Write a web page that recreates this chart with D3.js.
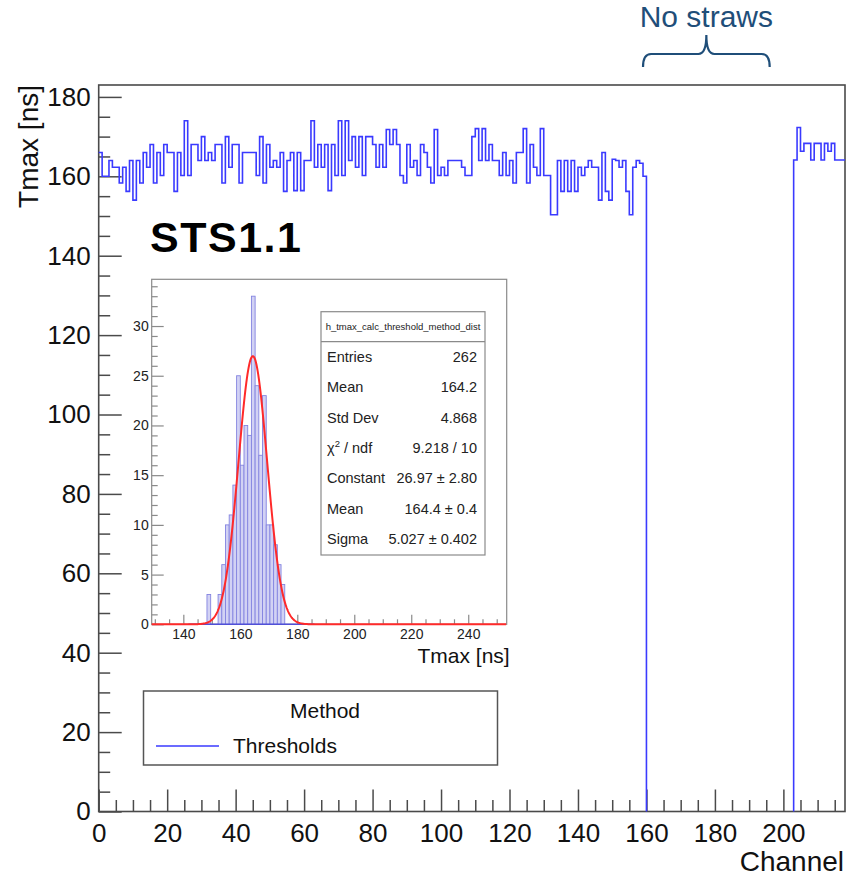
<!DOCTYPE html>
<html lang="en">

<head>
    <meta charset="UTF-8">
    <title>Tmax per channel</title>
    <script src="https://cdn.jsdelivr.net/npm/d3@7"></script>
    <style>
        body { margin: 0; background: #fff; }
        text { font-family: "Liberation Sans", Arial, sans-serif; }
    </style>
</head>

<body>
    <div id="container"></div>
<script>
    // Tmax per channel, first block (channels 0..159)
    const tmaxA = [
        166, 160, 160, 164, 162.3, 162.3, 158.3, 162.3, 156.2, 164,
        154, 164, 158.3, 166, 162.3, 168, 158.3, 166, 160.2, 168,
        166, 166, 156.2, 166, 160.2, 174, 160.2, 168, 168, 164,
        170, 164, 166, 164, 168, 168, 158.3, 170, 162.3, 168,
        168, 158.3, 166, 166, 166, 166, 160.2, 170, 158.3, 168,
        162.3, 164, 162.3, 166, 156.2, 164, 166, 156.4, 166, 156.4,
        164, 164, 174, 162.3, 168, 162.3, 168, 156.4, 168, 160.2,
        174, 160.2, 174, 164, 170, 162.3, 170, 160.2, 170, 170,
        168, 162.3, 168, 162.3, 171.8, 168, 171.8, 168, 160.2, 158.3,
        168, 162.3, 164, 160.2, 168, 166, 162.3, 158.3, 171.8, 160.2,
        162.3, 160.2, 164, 164, 164, 164, 162.3, 160.2, 160.2, 170,
        172, 164, 172, 164, 168, 164, 164, 160.2, 166, 160.2,
        164, 158.3, 166, 166, 172, 158.3, 168, 162.3, 160.2, 172,
        160.2, 160.2, 150.3, 150.3, 164, 156.2, 164, 156.2, 164, 156.2,
        162.3, 160.2, 162.3, 164, 162.3, 162.3, 154, 166, 156.2, 154,
        164.3, 164, 162.3, 164, 156.2, 150.3, 162.3, 164, 163.3, 160
    ];
    // second block after the gap without straws
    const startB = 203;
    const tmaxB = [164.1, 172.3, 166.3, 168.3, 168.3, 164.1, 168.3, 168.3, 164.1, 168.3,
        166.3, 168.3, 164.1, 164.1, 164.1];

    const xTicks = [0, 20, 40, 60, 80, 100, 120, 140, 160, 180, 200];
    const yTicks = [0, 20, 40, 60, 80, 100, 120, 140, 160, 180];

    // inset: distribution of Tmax
    const distStart = 141.8;
    const distWidth = 1.3;
    const distCounts = [0, 0, 0, 0, 0, 3, 0, 0, 3, 6,
        10, 11, 14, 25, 16, 20, 19, 33, 24, 17,
        23, 10, 10, 8, 6, 4, 0, 0, 0, 0,
        0, 0, 0, 0];
    const fitConst = 26.97, fitMean = 164.4, fitSigma = 5.027;
    const insetXTicks = [140, 160, 180, 200, 220, 240];
    const insetYTicks = [0, 5, 10, 15, 20, 25, 30];
    const statsTitle = "h_tmax_calc_threshold_method_dist";
    const statsRows = [
        ["Entries", "262"],
        ["Mean", "164.2"],
        ["Std Dev", "4.868"],
        ["chi2", "9.218 / 10"],
        ["Constant", "26.97 \u00b1 2.80"],
        ["Mean", "164.4 \u00b1 0.4"],
        ["Sigma", "5.027 \u00b1 0.402"]
    ];

    const W = 850, H = 877;
    const axisColor = "#4a4a4a";
    const histColor = "#3a3aff";

    const svg = d3.create("svg")
        .attr("width", W)
        .attr("height", H)
        .attr("viewBox", `0 0 ${W} ${H}`);

    svg.append("rect").attr("width", W).attr("height", H).attr("fill", "#fff");

    // ---------- main frame ----------
    const x = d3.scaleLinear().domain([0, 218]).range([98.7, 845]);
    const y = d3.scaleLinear().domain([0, 183]).range([811.5, 85]);

    const minorX = d3.range(0, 218, 5).filter(d => d % 20 !== 0);
    const minorY = d3.range(0, 183, 5).filter(d => d % 20 !== 0);

    const gx = svg.append("g").attr("transform", `translate(0,${y(0)})`);
    gx.append("g").call(d3.axisBottom(x).tickValues(minorX).tickSize(-11.5).tickFormat(""));
    gx.append("g").call(d3.axisBottom(x).tickValues(xTicks).tickSize(-22).tickPadding(12).tickSizeOuter(0));

    const gy = svg.append("g").attr("transform", `translate(${x(0)},0)`);
    gy.append("g").call(d3.axisLeft(y).tickValues(minorY).tickSize(-11.5).tickFormat(""));
    gy.append("g").call(d3.axisLeft(y).tickValues(yTicks).tickSize(-23).tickPadding(8).tickSizeOuter(0));

    svg.selectAll(".domain").remove();
    [gx, gy].forEach(g => {
        g.selectAll("line").attr("stroke", axisColor).attr("stroke-width", 1.5);
        g.selectAll("text").attr("font-size", 26).attr("fill", "#111")
            .attr("font-family", '"Liberation Sans", Arial, sans-serif');
    });

    svg.append("rect")
        .attr("x", x(0)).attr("y", y(183))
        .attr("width", x(218) - x(0)).attr("height", y(0) - y(183))
        .attr("fill", "none").attr("stroke", axisColor).attr("stroke-width", 1.6);

    // step histogram, two pieces
    const step = d3.line()
        .x(d => x(d[0]))
        .y(d => y(d[1]))
        .curve(d3.curveStepAfter);

    const ptsA = tmaxA.map((v, i) => [i, v]);
    ptsA.push([tmaxA.length, tmaxA[tmaxA.length - 1]]);
    ptsA.push([tmaxA.length, 0]);

    const ptsB = [[startB, 0]].concat(tmaxB.map((v, i) => [startB + i, v]));
    ptsB.push([startB + tmaxB.length, tmaxB[tmaxB.length - 1]]);

    [ptsA, ptsB].forEach(p => {
        svg.append("path")
            .attr("d", step(p))
            .attr("fill", "none")
            .attr("stroke", histColor)
            .attr("stroke-width", 1.6);
    });

    // axis titles
    svg.append("text")
        .attr("x", x(218) - 1).attr("y", 871)
        .attr("text-anchor", "end")
        .attr("font-size", 28).attr("fill", "#111")
        .text("Channel");

    svg.append("text")
        .attr("transform", `translate(38,${y(183)}) rotate(-90)`)
        .attr("text-anchor", "end")
        .attr("font-size", 28).attr("fill", "#111")
        .text("Tmax [ns]");

    svg.append("text")
        .attr("x", 150).attr("y", 252)
        .attr("font-size", 43).attr("font-weight", "bold")
        .attr("letter-spacing", 1.5).attr("fill", "#000")
        .text("STS1.1");

    // "No straws" brace above the gap
    const xL = x(159), xR = x(196), xM = (xL + xR) / 2;
    const yTip = 35, yBar = 54, yEnd = 67;
    const brace = d3.path();
    brace.moveTo(xL, yEnd);
    brace.quadraticCurveTo(xL, yBar, xL + 8, yBar);
    brace.lineTo(xM - 8, yBar);
    brace.quadraticCurveTo(xM, yBar, xM, yTip);
    brace.quadraticCurveTo(xM, yBar, xM + 8, yBar);
    brace.lineTo(xR - 8, yBar);
    brace.quadraticCurveTo(xR, yBar, xR, yEnd);
    svg.append("path")
        .attr("d", brace.toString())
        .attr("fill", "none").attr("stroke", "#1f4e79").attr("stroke-width", 2.2);

    svg.append("text")
        .attr("x", xM).attr("y", 27)
        .attr("text-anchor", "middle")
        .attr("font-size", 30).attr("fill", "#1f4e79")
        .text("No straws");

    // ---------- inset ----------
    const ix = d3.scaleLinear().domain([128.9, 253.5]).range([151.7, 506.7]);
    const iy = d3.scaleLinear().domain([0, 34.7]).range([624.3, 279.3]);
    const insetGrey = "#8a8a8a";

    const ins = svg.append("g");

    const iMinorX = d3.range(130, 253, 5).filter(d => d % 20 !== 0);
    const iMinorY = d3.range(0, 35, 1).filter(d => d % 5 !== 0);

    const igx = ins.append("g").attr("transform", `translate(0,${iy(0)})`);
    igx.append("g").call(d3.axisBottom(ix).tickValues(iMinorX).tickSize(-5).tickFormat(""));
    igx.append("g").call(d3.axisBottom(ix).tickValues(insetXTicks).tickSize(-9.5).tickPadding(5).tickSizeOuter(0));

    const igy = ins.append("g").attr("transform", `translate(${ix(128.9)},0)`);
    igy.append("g").call(d3.axisLeft(iy).tickValues(iMinorY).tickSize(-6).tickFormat(""));
    igy.append("g").call(d3.axisLeft(iy).tickValues(insetYTicks).tickSize(-12).tickPadding(3).tickSizeOuter(0));

    ins.selectAll(".domain").remove();
    [igx, igy].forEach(g => {
        g.selectAll("line").attr("stroke", insetGrey).attr("stroke-width", 1.2);
        g.selectAll("text").attr("font-size", 14).attr("fill", "#222")
            .attr("font-family", '"Liberation Sans", Arial, sans-serif');
    });

    ins.append("rect")
        .attr("x", ix(128.9)).attr("y", iy(34.7))
        .attr("width", ix(253.5) - ix(128.9)).attr("height", iy(0) - iy(34.7))
        .attr("fill", "none").attr("stroke", insetGrey).attr("stroke-width", 1.2);

    ins.selectAll("rect.bin")
        .data(distCounts.map((c, i) => ({ x0: distStart + i * distWidth, c: c })).filter(d => d.c > 0))
        .enter()
        .append("rect")
        .attr("class", "bin")
        .attr("x", d => ix(d.x0))
        .attr("y", d => iy(d.c))
        .attr("width", ix(distStart + distWidth) - ix(distStart))
        .attr("height", d => iy(0) - iy(d.c))
        .attr("fill", "#d2d2f4")
        .attr("stroke", "#8484e0")
        .attr("stroke-width", 0.9);

    ins.append("line")
        .attr("x1", ix(distStart)).attr("x2", ix(distStart + distCounts.length * distWidth))
        .attr("y1", iy(0)).attr("y2", iy(0))
        .attr("stroke", "#5050d8").attr("stroke-width", 1.5);

    // gaussian fit
    const gauss = v => fitConst * Math.exp(-0.5 * Math.pow((v - fitMean) / fitSigma, 2));
    const fitLine = d3.line()
        .x(d => ix(d))
        .y(d => iy(gauss(d)));
    ins.append("path")
        .attr("d", fitLine(d3.range(128.9, 253.5, 0.2)))
        .attr("fill", "none")
        .attr("stroke", "#ff2a2a")
        .attr("stroke-width", 2);

    ins.append("text")
        .attr("x", ix(253.5) + 3).attr("y", 663)
        .attr("text-anchor", "end")
        .attr("font-size", 21).attr("fill", "#111")
        .text("Tmax [ns]");

    // stats box
    const sb = { x: 321, y: 311.7, w: 164, h: 243.3, head: 30, row: 30.4 };
    const stats = ins.append("g");
    stats.append("rect")
        .attr("x", sb.x).attr("y", sb.y).attr("width", sb.w).attr("height", sb.h)
        .attr("fill", "#fff").attr("stroke", insetGrey).attr("stroke-width", 1.2);
    stats.append("line")
        .attr("x1", sb.x).attr("x2", sb.x + sb.w)
        .attr("y1", sb.y + sb.head).attr("y2", sb.y + sb.head)
        .attr("stroke", insetGrey).attr("stroke-width", 1.2);
    stats.append("text")
        .attr("x", sb.x + sb.w / 2).attr("y", sb.y + 18.5)
        .attr("text-anchor", "middle")
        .attr("font-size", 9.5).attr("fill", "#222")
        .text(statsTitle);

    statsRows.forEach((r, i) => {
        const ty = sb.y + sb.head + 20 + i * sb.row;
        const lab = stats.append("text")
            .attr("x", sb.x + 6).attr("y", ty)
            .attr("font-size", 14.5).attr("fill", "#222");
        if (r[0] === "chi2") {
            lab.append("tspan").text("\u03c7");
            lab.append("tspan").attr("font-size", 9.5).attr("dy", -6).text("2");
            lab.append("tspan").attr("dy", 6).text(" / ndf");
        } else {
            lab.text(r[0]);
        }
        stats.append("text")
            .attr("x", sb.x + sb.w - 8).attr("y", ty)
            .attr("text-anchor", "end")
            .attr("font-size", 14.5).attr("fill", "#222")
            .text(r[1]);
    });

    // ---------- legend ----------
    const lg = svg.append("g");
    lg.append("rect")
        .attr("x", 143.5).attr("y", 691).attr("width", 354).attr("height", 74)
        .attr("fill", "#fff").attr("stroke", "#555").attr("stroke-width", 1.5);
    lg.append("text")
        .attr("x", 325).attr("y", 718)
        .attr("text-anchor", "middle")
        .attr("font-size", 21).attr("fill", "#111")
        .text("Method");
    lg.append("line")
        .attr("x1", 156).attr("x2", 219).attr("y1", 746).attr("y2", 746)
        .attr("stroke", histColor).attr("stroke-width", 1.6);
    lg.append("text")
        .attr("x", 233).attr("y", 753)
        .attr("font-size", 21).attr("fill", "#111")
        .text("Thresholds");

    d3.select("#container").node().append(svg.node());
</script>
</body>

</html>
